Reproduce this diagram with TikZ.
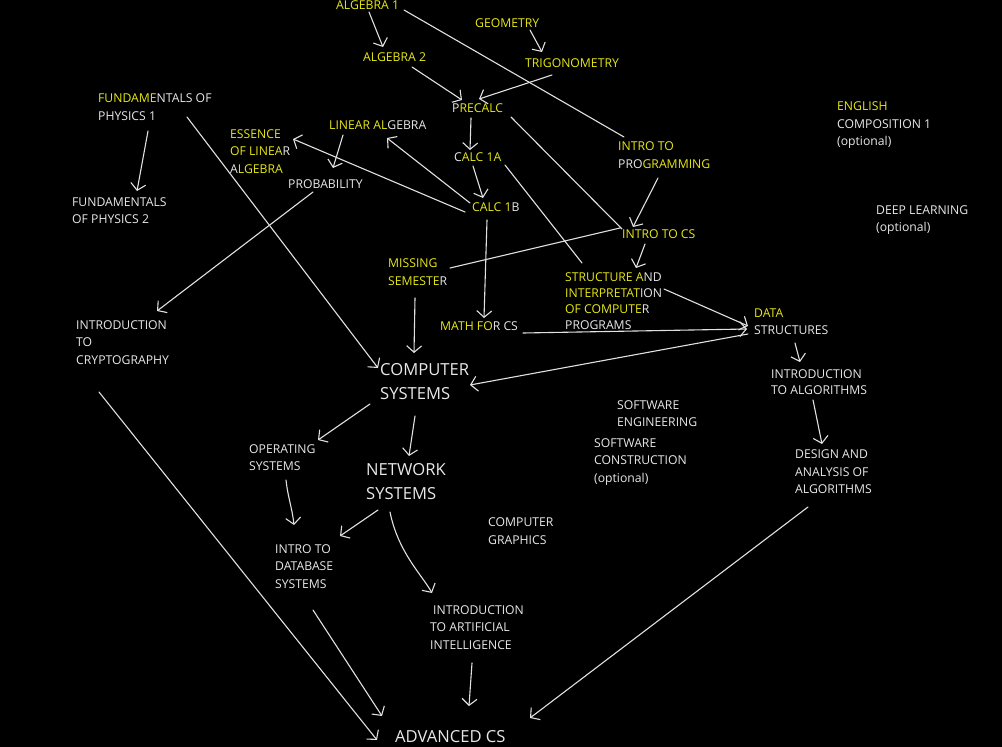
\documentclass[tikz,border=0pt]{standalone}
\usepackage{fontspec}
\setmainfont{Open Sans}
\usetikzlibrary{arrows.meta,calc}
\definecolor{yel}{RGB}{232,232,20}
\definecolor{fg}{RGB}{232,232,232}
\definecolor{ln}{RGB}{225,225,225}
\newcommand\yl[1]{\textcolor{yel}{#1}}
\begin{document}
\begin{tikzpicture}[x=1pt,y=-1pt,
  txt/.style={anchor=west,inner sep=0pt,align=left,text=fg,font=\fontsize{12.2}{17.5}\selectfont},
  tight/.style={font=\fontsize{12.2}{16}\selectfont},
  big/.style={anchor=west,inner sep=0pt,align=left,text=fg,font=\fontsize{16.6}{24}\selectfont},
  conn/.style={draw=ln,line width=1.1pt,line cap=round},
  arr/.style={conn,-{Straight Barb[length=6.5pt,width=15pt,line width=1.1pt]}}]
\fill[black] (0,0) rectangle (1002,747);
\useasboundingbox (0,0) rectangle (1002,747);
% nodes
\node[txt] (alg1) at (336,5) {\yl{ALGEBRA 1}};
\node[txt] (alg2) at (363,57) {\yl{ALGEBRA 2}};
\node[txt] (geom) at (475,23) {\yl{GEOMETRY}};
\node[txt] (trig) at (525,63) {\yl{TRIGONOMETRY}};
\node[txt] (precalc) at (452,108) {P\yl{RECALC}};
\node[txt] (calcA) at (454,157) {C\yl{ALC 1A}};
\node[txt] (calcB) at (472,207) {\yl{CALC 1}B};
\node[txt] (linalg) at (329,125) {\yl{LINEAR AL}GEBRA};
\node[txt] (essence) at (230,151.5) {\yl{ESSENCE}\\\yl{OF LINEA}R\\A\yl{LGEBRA}};
\node[txt] (prob) at (288,184) {PROBABILITY};
\node[txt] (fund1) at (98,107) {\yl{FUNDAME}NTALS OF\\PHYSICS 1};
\node[txt] (fund2) at (72,210.5) {FUNDAMENTALS\\OF PHYSICS 2};
\node[txt] (introprog) at (618,155) {\yl{INTRO TO}\\PRO\yl{GRAMMING}};
\node[txt] (introcs) at (622,234) {\yl{INTRO TO CS}};
\node[txt] (missing) at (388,272) {\yl{MISSING}\\\yl{SEMESTE}R};
\node[txt,tight] (sicp) at (565,301.5) {\yl{STRUCTURE A}ND\\\yl{INTERPRETAT}ION\\\yl{OF COMPUTE}R\\PROGRAMS};
\node[txt] (mathcs) at (440,326) {\yl{MATH FO}R CS};
\node[txt] (datastr) at (754,321.5) {\yl{DATA}\\STRUCTURES};
\node[txt] (english) at (837,125.5) {\yl{ENGLISH}\\COMPOSITION 1\\(optional)};
\node[txt] (deep) at (876,220) {DEEP LEARNING\\(optional)};
\node[txt] (crypto) at (76,342.5) {INTRODUCTION\\TO\\CRYPTOGRAPHY};
\node[big] (compsys) at (380,382) {COMPUTER\\SYSTEMS};
\node[txt,tight] (intalg) at (771,382) {INTRODUCTION\\TO ALGORITHMS};
\node[txt] (sweng) at (617,413.5) {SOFTWARE\\ENGINEERING};
\node[txt] (swcon) at (594,462) {SOFTWARE\\CONSTRUCTION\\(optional)};
\node[txt] (design) at (795,472) {DESIGN AND\\ANALYSIS OF\\ALGORITHMS};
\node[txt] (os) at (249,457.5) {OPERATING\\SYSTEMS};
\node[big] (netsys) at (366,482) {NETWORK\\SYSTEMS};
\node[txt] (graphics) at (488,531) {COMPUTER\\GRAPHICS};
\node[txt] (db) at (275,566.5) {INTRO TO\\DATABASE\\SYSTEMS};
\node[txt] (ai) at (430,627.5) {\hspace{3pt}INTRODUCTION\\TO ARTIFICIAL\\INTELLIGENCE};
\node[big] (adv) at (395,737) {ADVANCED CS};
% connectors
\draw[arr] ($(alg1.west)+(33,7)$) -- ($(alg2.west)+(20,-10)$);
\draw[conn] ($(alg1.west)+(68,5)$) -- ($(introprog.west)+(6,-18)$);
\draw[arr] ($(geom.west)+(55,7)$) -- ($(trig.west)+(17,-11)$);
\draw[arr] ($(alg2.west)+(49,10)$) -- ($(precalc.west)+(10,-8)$);
\draw[arr] ($(trig.west)+(27,12)$) -- ($(precalc.west)+(27,-9)$);
\draw[arr] ($(precalc.west)+(19,10)$) -- ($(calcA.west)+(16,-7)$);
\draw[arr] ($(calcA.west)+(19,9)$) -- ($(calcB.west)+(11,-9)$);
\draw[conn] ($(precalc.west)+(59,9)$) -- ($(introcs.west)+(0,-5)$);
\draw[conn] ($(calcA.west)+(51,8)$) -- ($(sicp.west)+(17,-38.5)$);
\draw[arr] ($(introprog.west)+(40,23)$) -- ($(introcs.west)+(11,-7)$);
\draw[arr] ($(introcs.west)+(23,10)$) -- ($(sicp.west)+(71,-33.5)$);
\draw[arr] ($(calcB.west)+(-2,-4)$) -- ($(linalg.west)+(58,13)$);
\draw[arr] ($(calcB.west)+(-7,5)$) -- ($(essence.west)+(63,-12.5)$);
\draw[arr] ($(linalg.west)+(14,10)$) -- ($(prob.west)+(45,-16)$);
\draw[arr] ($(prob.west)+(25,8)$) -- ($(crypto.west)+(81,-31.5)$);
\draw[arr] ($(fund1.west)+(50,24)$) -- ($(fund2.west)+(65,-19.5)$);
\draw[arr] ($(fund1.west)+(89,10)$) -- ($(compsys.west)+(-2,-14)$);
\draw[arr] ($(calcB.west)+(15,13)$) -- ($(mathcs.west)+(44,-8)$);
\draw[conn] ($(missing.west)+(62,-4)$) -- ($(introcs.west)+(-2,-6)$);
\draw[arr] ($(missing.west)+(27,26)$) -- ($(compsys.west)+(34,-29)$);
\draw[arr] ($(sicp.west)+(99,-12.5)$) -- ($(datastr.west)+(-6,4.5)$);
\draw[arr] ($(mathcs.west)+(83,7)$) -- ($(datastr.west)+(-7,7.5)$);
\draw[arr] ($(datastr.west)+(-6,12.5)$) -- ($(compsys.west)+(90,3)$);
\draw[arr] ($(datastr.west)+(41,21.5)$) -- ($(intalg.west)+(29,-20)$);
\draw[arr] ($(intalg.west)+(42,18)$) -- ($(design.west)+(27,-28)$);
\draw[arr] ($(compsys.west)+(-10,22)$) -- ($(os.west)+(69,-17.5)$);
\draw[arr] ($(compsys.west)+(35,34)$) -- ($(netsys.west)+(43,-26)$);
\draw[arr] ($(os.west)+(37,22.5)$) .. controls +(2,18) and +(-2,-18) .. ($(db.west)+(19,-41.5)$);
\draw[arr] ($(netsys.west)+(12,28)$) -- ($(db.west)+(65,-30.5)$);
\draw[arr] ($(netsys.west)+(24,30)$) .. controls +(8,40) and +(-10,-18) .. ($(ai.west)+(2,-34.5)$);
\draw[arr] ($(crypto.west)+(23,49.5)$) -- ($(adv.west)+(-18,3)$);
\draw[arr] ($(db.west)+(38,43.5)$) -- ($(adv.west)+(-13,-21)$);
\draw[arr] ($(ai.west)+(42,35.5)$) -- ($(adv.west)+(74,-31)$);
\draw[arr] ($(design.west)+(13,35)$) -- ($(adv.west)+(135,-19)$);
\end{tikzpicture}
\end{document}
